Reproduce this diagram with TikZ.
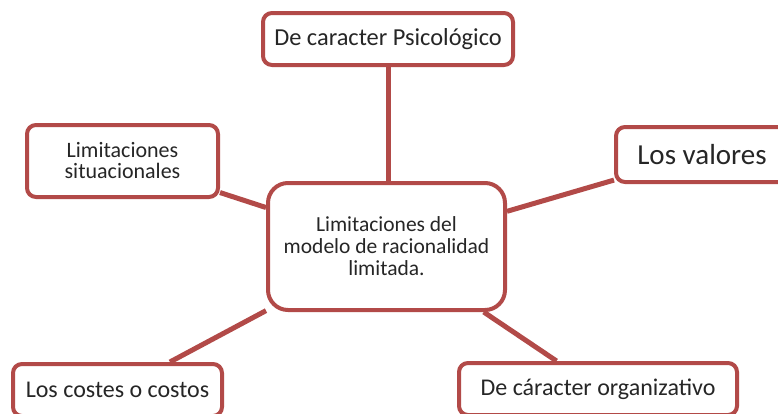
\documentclass[tikz,border=0pt]{standalone}
\usepackage{fontspec}
\setmainfont{Carlito}
\usetikzlibrary{positioning}
\definecolor{borde}{RGB}{178,74,72}

\begin{document}
\begin{tikzpicture}[
    x=1pt, y=-1pt,
    caja/.style={draw=borde, line width=4pt, rounded corners=9pt, align=center, fill=white, text=black!85, inner sep=0pt},
    enlace/.style={draw=borde, line width=5pt}
]
\useasboundingbox (0,0) rectangle (778,413);
\clip (0,0) rectangle (778,413);
\node[caja, rounded corners=20pt, minimum width=237pt, minimum height=127pt, font=\fontsize{21.5}{22}\selectfont] (centro) at (386.5,246.5) {Limitaciones del\\modelo de racionalidad\\limitada.};
\node[caja, minimum width=250pt, minimum height=52pt, font=\fontsize{24.4}{26}\selectfont] (psico) at (388,39) {De caracter Psicológico};
\node[caja, minimum width=191pt, minimum height=72pt, font=\fontsize{22}{21}\selectfont] (situ) at (122.5,161) {Limitaciones\\situacionales};
\node[caja, minimum width=172pt, minimum height=55pt, font=\fontsize{29}{30}\selectfont] (valores) at (702,154.5) {Los valores};
\node[caja, minimum width=209pt, minimum height=52pt, font=\fontsize{24}{24}\selectfont] (costos) at (117.5,390) {Los costes o costos};
\node[caja, minimum width=278pt, minimum height=52pt, font=\fontsize{24}{24}\selectfont] (organ) at (598,389) {De cáracter organizativo};
\draw[enlace] (centro.north -| psico.south) -- (psico);
\draw[enlace] (centro) -- (situ);
\draw[enlace] (centro) -- (valores);
\draw[enlace] (centro) -- (costos);
\draw[enlace] (centro) -- (organ);
\end{tikzpicture}
\end{document}
